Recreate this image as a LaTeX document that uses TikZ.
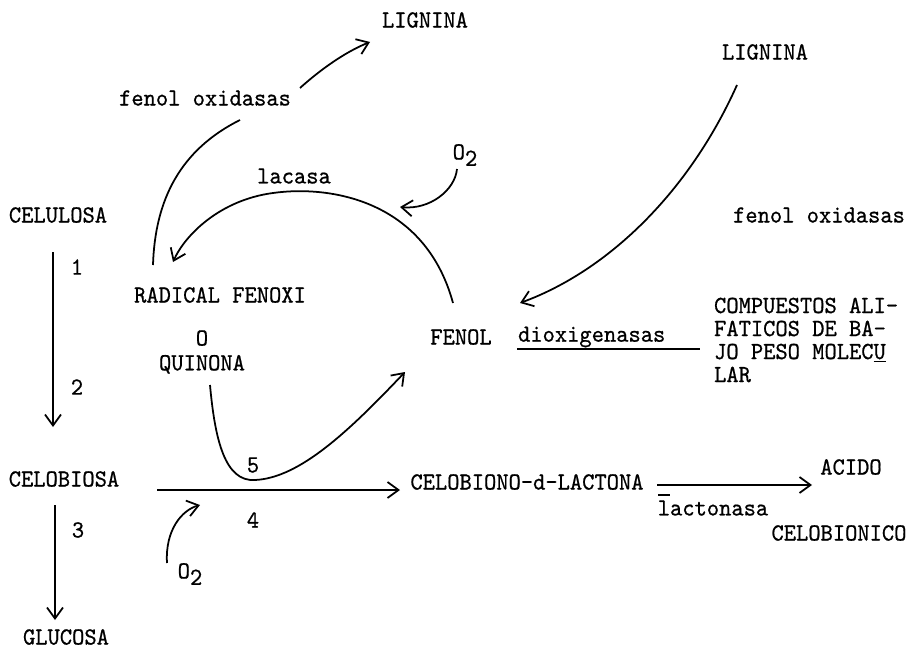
\documentclass[tikz,border=0pt]{standalone}
\usepackage{fontspec}
\newfontfamily\typew[Extension=.otf,FakeBold=0.7,FakeStretch=0.95]{lmmono10-regular}
\usetikzlibrary{arrows.meta,calc}
\newcommand\tw{\typew\fontsize{14}{13.1}\selectfont}
\newcommand\oxig{O\raisebox{-0.6ex}{2}}

\begin{document}
\begin{tikzpicture}[x=0.02cm,y=-0.02cm,
		lbl/.style={font=\tw,inner sep=1pt},
		ln/.style={line width=1pt},
		rx/.style={ln,-{Straight Barb[length=2.2mm,width=3.2mm]}}]
		\useasboundingbox (0,0) rectangle (917,649);

		%left column: celulosa down to glucosa
		\node[lbl] (celulosa) at (58,215) {CELULOSA};
		\node[lbl] (celobiosa) at (64,479) {CELOBIOSA};
		\node[lbl] (glucosa) at (66,637) {GLUCOSA};
		\node[lbl] (n1) at (77,267) {1};
		\node[lbl] (n2) at (77,387) {2};
		\node[lbl] (n3) at (78,530) {3};

		%lignin side
		\node[lbl] (lignA) at (425,20) {LIGNINA};
		\node[lbl] (fenoxA) at (205,98) {fenol oxidasas};
		\node[lbl] (lacasa) at (294,176) {lacasa};
		\node[lbl] (oxA) at (465,155) {\oxig};
		\node[lbl] (radical) at (220,295) {RADICAL FENOXI};
		\node[lbl,align=center] (quinona) at (202,352) {O\\[1pt]QUINONA};
		\node[lbl] (fenol) at (461,337) {FENOL};
		\node[lbl,anchor=west] (diox) at (516,337) {dioxigenasas};
		\node[lbl,anchor=west,align=left] (compuestos) at (712,340)
			{COMPUESTOS ALI-\\FATICOS DE BA-\\JO PESO MOLEC\underline{U}\\LAR};
		\node[lbl] (lignB) at (765,52) {LIGNINA};
		\node[lbl] (fenoxB) at (819,215) {fenol oxidasas};

		%bottom row
		\node[lbl] (n5) at (253,465) {5};
		\node[lbl] (n4) at (253,520) {4};
		\node[lbl] (oxB) at (190,574) {\oxig};
		\node[lbl] (lactona) at (527,482) {CELOBIONO-d-LACTONA};
		\node[lbl] (acido) at (851,467) {ACIDO};
		\node[lbl] (lactonasa) at (713,508) {lactonasa};
		\node[lbl] (celobionico) at (839,533) {CELOBIONICO};

		%straight arrows
		\draw[rx] ($(celulosa)+(-5,37)$) -- ($(celobiosa)+(-11,-52)$);
		\draw[rx] ($(celobiosa)+(-9,26)$) -- ($(glucosa)+(-11,-17)$);
		\draw[rx] ($(celobiosa)+(93,11)$) -- ($(lactona)+(-127,8)$);
		\draw[rx] ($(lactona)+(130,3)$) -- ($(acido)+(-39,18)$);
		\draw[ln] ($(lactonasa)+(-55,-13)$) -- ($(lactonasa)+(-43,-13)$);
		\draw[ln] ($(fenol)+(56,12)$) -- ($(compuestos.west)+(-12,9)$);

		%curved arrows
		\draw[ln] ($(radical)+(-67,-30)$) .. controls (155,200) and (180,150) .. ($(fenoxA)+(35,22)$);
		\draw[rx] ($(fenoxA)+(95,-10)$) .. controls (320,70) and (345,52) .. ($(lignA)+(-55,22)$);
		\draw[rx] ($(fenol)+(-8,-34)$) .. controls (425,200) and (330,185) .. (273,193)
			.. controls (220,200) and (185,235) .. ($(radical)+(-47,-33)$);
		\coordinate (lacasatip) at (400,207);
		\draw[rx] ($(oxA)+(-8,14)$) .. controls (455,190) and (430,210) .. (lacasatip);
		\draw[rx] ($(quinona)+(8,33)$) .. controls (215,440) and (225,482) .. (255,480)
			.. controls (300,478) and (350,430) .. ($(fenol)+(-56,35)$);
		\draw[rx] ($(lignB)+(-28,33)$) .. controls (690,190) and (610,270) .. ($(fenol)+(59,-34)$);
		\coordinate (celotip) at (200,505);
		\draw[rx] ($(oxB)+(-23,-11)$) .. controls (165,530) and (182,510) .. (celotip);

	\end{tikzpicture}
\end{document}
